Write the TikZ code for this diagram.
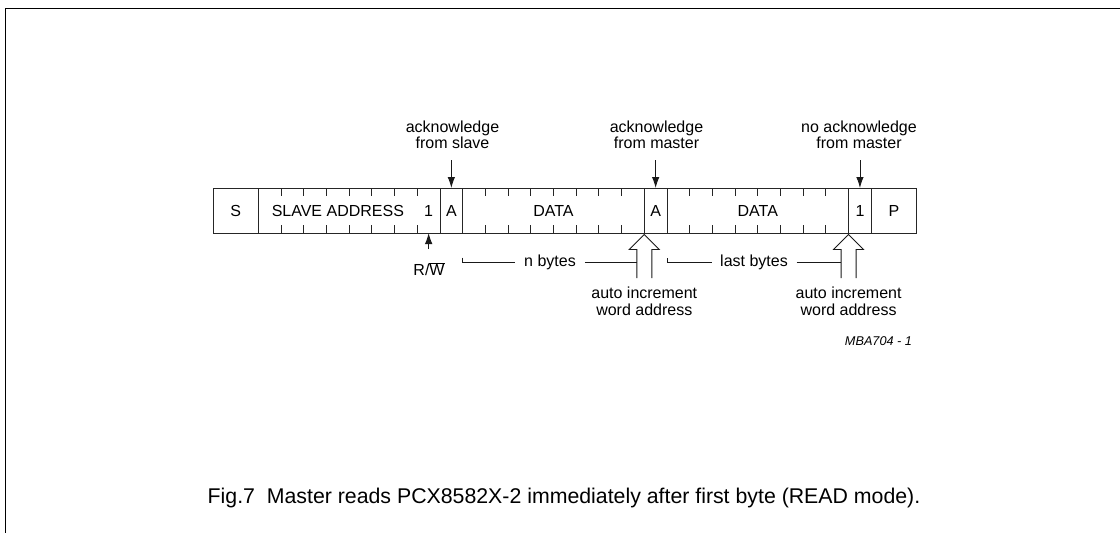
\documentclass[tikz,border=0pt]{standalone}
\usepackage{fontspec}
\setmainfont{Liberation Sans}
\usetikzlibrary{arrows.meta,calc}
\begin{document}
\begin{tikzpicture}[x=1pt,y=-1pt,
  cell/.style={draw=black!85,line width=0.9pt,minimum height=45pt,inner sep=0pt,outer sep=0pt,anchor=west,font=\fontsize{16}{16}\selectfont},
  tick/.style={draw=black!85,line width=0.9pt},
  lbl/.style={inner sep=0pt,align=center,font=\fontsize{16}{15.5}\selectfont},
  lblb/.style={inner sep=0pt,align=center,font=\fontsize{16}{17.5}\selectfont},
  arr/.style={draw=black!90,line width=0.9pt,-{Latex[length=11pt,width=7.5pt]}},
  hol/.style={draw=black!90,line width=0.9pt,line join=miter},
  brk/.style={draw=black!90,line width=0.9pt}]
\useasboundingbox (0,0) rectangle (1120,533);
\def\u{22.7}
% frame
\draw[line width=1.8pt] (5.5,533) -- (5.5,8.5) -- (1120,8.5);
% cells
\node[cell,minimum width={2*\u}] (S) at (213,210.5) {S};
\node[cell,minimum width={8*\u}] (SA) at (S.east) {};
\node[inner sep=0pt,font=\fontsize{16}{16}\selectfont] (SAt) at ($(SA.center)+(-0.5*\u,0)$) {SLAVE ADDRESS};
\node[inner sep=0pt,font=\fontsize{16}{16}\selectfont] (R1) at ($(SA.east)+(-0.5*\u,0)$) {1};
\coordinate (R1b) at (R1 |- SA.south);
\node[cell,minimum width={\u}] (A1) at (SA.east) {A};
\node[cell,minimum width={8*\u}] (D1) at (A1.east) {DATA};
\node[cell,minimum width={\u}] (A2) at (D1.east) {A};
\node[cell,minimum width={8*\u}] (D2) at (A2.east) {DATA};
\node[cell,minimum width={\u}] (N1) at (D2.east) {1};
\node[cell,minimum width={2*\u}] (P) at (N1.east) {P};
% ticks
\foreach \k in {1,...,7}{
  \draw[tick] ($(SA.north west)+(\k*\u,0)$) -- ++(0,8);
  \draw[tick] ($(SA.south west)+(\k*\u,0)$) -- ++(0,-8);
  \draw[tick] ($(D1.north west)+(\k*\u,0)$) -- ++(0,8);
  \draw[tick] ($(D1.south west)+(\k*\u,0)$) -- ++(0,-8);
  \draw[tick] ($(D2.north west)+(\k*\u,0)$) -- ++(0,8);
  \draw[tick] ($(D2.south west)+(\k*\u,0)$) -- ++(0,-8);
}
% top labels and arrows
\node[lbl] (ackS) at (452.5,135) {acknowledge\\from slave};
\node[lbl] (ackM) at (656.5,135) {acknowledge\\from master};
\node[lbl] (nack) at (859,135) {no acknowledge\\from master};
\coordinate (aS) at ($(A1.north)+(0,-28)$);
\coordinate (aM) at ($(A2.north)+(0,-28)$);
\coordinate (aN) at ($(N1.north)+(0,-28)$);
\draw[arr] (aS) -- (A1.north);
\draw[arr] (aM) -- (A2.north);
\draw[arr] (aN) -- (N1.north);
% R/W
\coordinate (rw0) at ($(R1b)+(0,16)$);
\draw[arr] (rw0) -- (R1b);
\node[lbl] (rw) at (429,269.5) {R/\(\overline{\hbox{W}}\)};
% hollow arrows
\coordinate (h1) at ($(D1.south east)+(0,1.5)$);
\coordinate (h2) at ($(D2.south east)+(0,1.5)$);
\foreach \h in {h1,h2}{
  \draw[hol] ($(\h)+(-7.5,43.5)$) -- ++(0,-28.5) -- ++(-7.5,0) -- (\h) -- ++(15,15) -- ++(-7.5,0) -- ++(0,28.5);
}
\coordinate (h1l) at ($(h1)+(-7.5,15)$);
\coordinate (h2l) at ($(h2)+(-7.5,15)$);
% byte brackets
\node[lbl,inner xsep=9pt] (nb) at (550,262.3) {n bytes};
\node[lbl,inner xsep=8.5pt] (lb) at (754,262.8) {last bytes};
\draw[brk] ($(D1.south west)+(0,24.5)$) -- ($(D1.south west)+(0,29.3)$) -- (nb.west);
\draw[brk] (nb.east) -- (nb.east -| h1l);
\draw[brk] ($(D2.south west)+(0,25)$) -- ($(D2.south west)+(0,29.8)$) -- (lb.west);
\draw[brk] (lb.east) -- (lb.east -| h2l);
% bottom labels
\node[lblb] (ai1) at ($(h1)+(0,67)$) {auto increment\\word address};
\node[lblb] (ai2) at ($(h2)+(0,67)$) {auto increment\\word address};
\node[inner sep=0pt,font=\fontsize{12.7}{14}\selectfont\itshape] (code) at (878.5,341) {MBA704 - 1};
\node[inner sep=0pt,font=\fontsize{21.3}{24}\selectfont] (cap) at (564,498) {Fig.7~ Master reads PCX8582X-2 immediately after first byte (READ mode).};
\end{tikzpicture}
\end{document}
